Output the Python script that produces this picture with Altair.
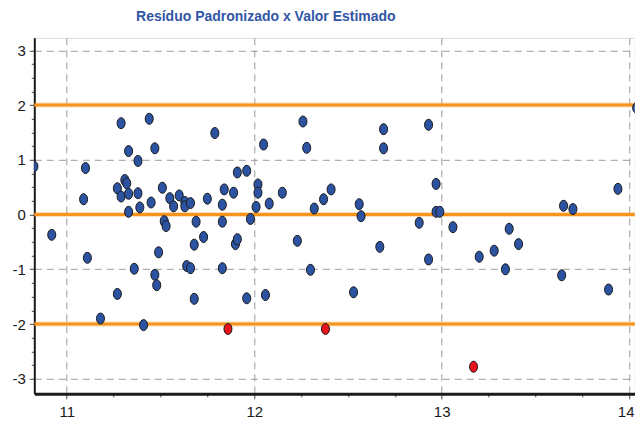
import altair as alt
import pandas as pd

# ---- data ----
blue_x = [10.825, 10.92, 11.09, 11.10, 11.11, 11.18, 11.27, 11.27, 11.29, 11.29,
          11.31, 11.32, 11.33, 11.33, 11.33, 11.36, 11.38, 11.38, 11.39, 11.41,
          11.44, 11.45, 11.47, 11.47, 11.48, 11.49, 11.51, 11.52, 11.53, 11.55,
          11.57, 11.60, 11.63, 11.63, 11.64, 11.66, 11.66, 11.68, 11.68, 11.69,
          11.73, 11.75, 11.79, 11.83, 11.83, 11.83, 11.84, 11.89, 11.90, 11.91,
          11.91, 11.96, 11.96, 11.98, 12.01, 12.02, 12.02, 12.05, 12.06, 12.08,
          12.15, 12.23, 12.26, 12.28, 12.30, 12.32, 12.37, 12.41, 12.53, 12.56,
          12.57, 12.67, 12.69, 12.69, 12.88, 12.93, 12.93, 12.97, 12.97, 12.99,
          13.06, 13.20, 13.28, 13.34, 13.36, 13.41, 13.64, 13.65, 13.70, 13.89,
          13.94, 14.04, 14.08]
blue_y = [0.88, -0.37, 0.28, 0.85, -0.79, -1.90, 0.48, -1.45, 1.67, 0.33,
          0.63, 0.57, 1.16, 0.38, 0.05, -0.99, 0.98, 0.39, 0.13, -2.02,
          1.75, 0.22, 1.21, -1.10, -1.29, -0.69, 0.49, -0.12, -0.21, 0.30,
          0.15, 0.35, 0.23, 0.15, -0.94, 0.21, -0.98, -0.55, -1.54, -0.13,
          -0.41, 0.29, 1.49, 0.18, -0.13, -0.98, 0.46, 0.40, -0.54, 0.77,
          -0.45, 0.80, -1.53, -0.08, 0.14, 0.55, 0.40, 1.28, -1.47, 0.20,
          0.40, -0.48, 1.70, 1.22, -1.01, 0.11, 0.28, 0.46, -1.42, 0.19,
          -0.03, -0.59, 1.56, 1.21, -0.15, 1.64, -0.82, 0.56, 0.05, 0.05,
          -0.23, -0.77, -0.66, -1.00, -0.26, -0.54, -1.11, 0.16, 0.10, -1.37,
          0.47, 1.95, -0.15]
red_x = [11.86, 12.38, 13.17, 14.08]
red_y = [-2.09, -2.09, -2.78, 2.02]
limit_y = [-2, 0, 2]
x_ticks = [11, 11.25, 11.5, 11.75, 12, 12.25, 12.5, 12.75, 13, 13.25, 13.5, 13.75, 14]
y_ticks = [-3, -2.75, -2.5, -2.25, -2, -1.75, -1.5, -1.25, -1, -0.75, -0.5, -0.25, 0,
           0.25, 0.5, 0.75, 1, 1.25, 1.5, 1.75, 2, 2.25, 2.5, 2.75, 3]
title_text = "Resíduo Padronizado x Valor Estimado"

pts = pd.DataFrame({
    "x": blue_x + red_x,
    "y": blue_y + red_y,
    "grupo": ["normal"] * len(blue_x) + ["outlier"] * len(red_x),
})
lim = pd.DataFrame({"y": limit_y})

W, H = 600.5, 356
xs = alt.Scale(domain=[10.827, 14.03], nice=False, zero=False)
ys = alt.Scale(domain=[-3.275, 3.23], nice=False, zero=False)

major = "datum.value % 1 === 0"
common = dict(
    title=None, grid=True,
    gridOpacity={"condition": {"test": major, "value": 1}, "value": 0},
    gridDash=[7, 5], gridColor="#9c9c9c", gridWidth=1,
    labelExpr=f"{major} ? '' + datum.value : ''",
    tickSize={"condition": {"test": major, "value": 5}, "value": 3},
    tickColor="#444", tickWidth=1, domainColor="#1a1a1a",
    labelFont="Liberation Sans", labelFontSize=15, labelColor="#1a1a1a",
    labelOverlap=False, labelFlush=False,
)
x_axis = alt.Axis(values=x_ticks, domainWidth=3, labelPadding=6,
                  labelOffset={"condition": {"test": "datum.value === 14", "value": -3.5}, "value": 0},
                  **common)
y_axis = alt.Axis(values=y_ticks, domainWidth=2, labelPadding=4, **common)

base_x = alt.X("x:Q", scale=xs, axis=x_axis)
base_y = alt.Y("y:Q", scale=ys, axis=y_axis)

halo = alt.Chart(lim).mark_rule(color="#F7941D", strokeWidth=5, opacity=0.3).encode(
    y=alt.Y("y:Q", scale=ys, axis=y_axis))
limits = alt.Chart(lim).mark_rule(color="#F7941D", strokeWidth=3).encode(
    y=alt.Y("y:Q", scale=ys, axis=y_axis))

ellipse = "M0,-1A0.73,1,0,1,1,0,1A0.73,1,0,1,1,0,-1Z"
points = alt.Chart(pts).mark_point(
    shape=ellipse, filled=True, size=121, stroke="#1c1c1c", strokeWidth=1,
    opacity=1, fillOpacity=1, clip=True,
).encode(
    x=base_x, y=base_y,
    fill=alt.Fill("grupo:N", scale=alt.Scale(domain=["normal", "outlier"],
                                             range=["#2B53A1", "#E8141B"]), legend=None),
)

chart = alt.layer(halo, limits, points).properties(
    width=W, height=H,
    title=alt.TitleParams(title_text, font="Liberation Sans", fontSize=14,
                          fontWeight="bold", color="#3156A6", anchor="middle", frame="group",
                          dx=-68.7, offset=14),
    autosize=alt.AutoSizeParams(type="none"),
    padding={"left": 26.3, "top": 29.8, "right": 0, "bottom": 30},
).configure_view(stroke="#1a1a1a", strokeWidth=2).configure(background="white")

chart.save("out.html", embed_options={"renderer": "svg", "actions": False})
